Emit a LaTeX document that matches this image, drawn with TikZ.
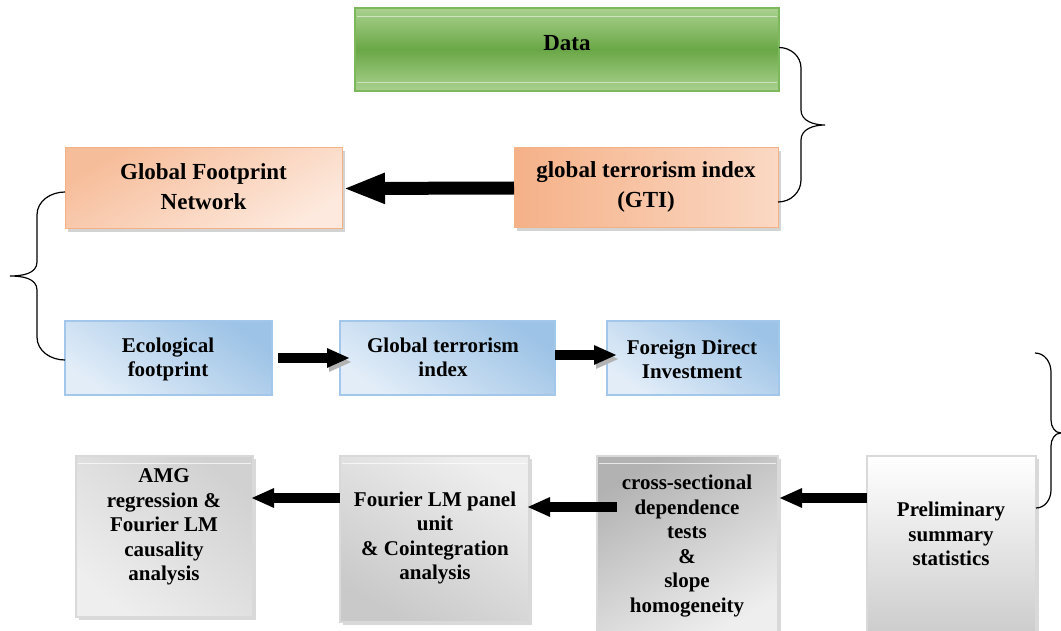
\documentclass[tikz,border=0pt]{standalone}
\usepackage{fontspec}
\setmainfont{Liberation Serif}
\usetikzlibrary{arrows.meta,calc,shadows}
\definecolor{gL}{HTML}{A9D18E}
\definecolor{gD}{HTML}{6AA746}
\definecolor{gBord}{HTML}{7DB85C}
\definecolor{oD}{HTML}{F5B188}
\definecolor{oL}{HTML}{FDE9DD}
\definecolor{oBord}{HTML}{F4B183}
\definecolor{bD}{HTML}{9DC3E6}
\definecolor{bL}{HTML}{E2EDF8}
\definecolor{bBord}{HTML}{A3C7EA}
\definecolor{grD}{HTML}{C6C6C6}
\definecolor{grL}{HTML}{EEEEEE}
\begin{document}
\begin{tikzpicture}[x=1pt,y=-1pt,
  every node/.style={inner sep=0pt, outer sep=0pt},
  databox/.style={draw=gBord, line width=1.2pt, top color=gL, bottom color=gL, middle color=gD},
  orbox/.style={draw=oBord, line width=1pt, drop shadow={shadow xshift=3pt,shadow yshift=-3pt,opacity=.35}},
  blbox/.style={draw=bBord, line width=1.2pt, top color=bD, bottom color=bL, shading angle=-35, minimum height=74pt},
  grbox/.style={draw=gray!30, line width=1.5pt, drop shadow={shadow xshift=3pt,shadow yshift=-3pt,opacity=.3}},
  ttop/.style={font=\bfseries\fontsize{23}{30}\selectfont, align=center},
  tsub/.style={font=\bfseries\fontsize{21}{24.5}\selectfont, align=center},
  bigbar/.style={line width=13pt, -{Triangle[length=42pt,width=28pt]}},
  bar/.style={line width=10pt, -{Triangle[length=23pt,width=18pt]}},
  shbar/.style={bar, preaction={draw=black!30, transform canvas={xshift=2pt,yshift=-4pt}}},
  bracepath/.style={draw=black, line width=1.2pt}
]
\useasboundingbox (0,0) rectangle (1061,631);

% --- top row
\node[databox, minimum width=424pt, minimum height=83pt] (data) at (567,49.5) {};
\draw[white, opacity=.5, line width=.8pt] ($(data.north west)+(2,8)$) -- ($(data.north east)+(-2,8)$);
\draw[white, opacity=.5, line width=.8pt] ($(data.south west)+(2,-9)$) -- ($(data.south east)+(-2,-9)$);
\node[ttop] (dataT) at (567,43) {Data};

\node[orbox, left color=oD, right color=oL!70!oD, minimum width=264pt, minimum height=80pt] (gti) at (646,188) {};
\node[ttop] (gtiT) at (646,187) {global terrorism index\\(GTI)};

\node[orbox, top color=oD!85, bottom color=oL, shading angle=30, minimum width=277pt, minimum height=81pt] (gfn) at (203.5,188.5) {};
\node[ttop] (gfnT) at (203.5,187) {Global Footprint\\Network};

\draw[bigbar] (gti.west) -- ($(gfn.east)+(1,0)$);

% --- blue row
\node[blbox, minimum width=207pt] (eco) at (168.5,358) {};
\node[tsub] (ecoT) at (168,359.5) {Ecological\\footprint};
\node[blbox, minimum width=215pt] (gtib) at (447.5,358) {};
\node[tsub] (gtibT) at (443,357.5) {Global terrorism\\index};
\node[blbox, minimum width=172pt] (fdi) at (693,358) {};
\node[tsub] (fdiT) at (692,359.5) {Foreign Direct\\Investment};

\draw[shbar] ($(eco.east)+(6,0)$) -- ($(gtib.west)+(10,0)$);
\draw[shbar] ($(gtib.east)+(0,-3)$) -- ($(fdi.west)+(10,-3)$);

% --- grey row
\node[grbox, top color=grD!80!white, bottom color=grL, shading angle=-40, minimum width=177pt, minimum height=161pt] (amg) at (164.5,536.5) {};
\node[grbox, top color=grL, bottom color=grD!95, shading angle=-30, minimum width=189pt, minimum height=166pt] (four) at (434.5,539) {};
\node[grbox, top color=grD!90!black, bottom color=grL, shading angle=30, minimum width=181pt, minimum height=180pt] (cross) at (687.5,546) {};
\node[grbox, top color=white, bottom color=grD!90, minimum width=169pt, minimum height=180pt] (prelim) at (951.5,546) {};
\foreach \b in {amg,four,cross,prelim}{
  \draw[white, opacity=.7, line width=.8pt] ($(\b.north west)+(2,7)$) -- ($(\b.north east)+(-2,7)$);
}
\node[tsub] (amgT) at (164,527) {AMG\\regression \&\\Fourier LM\\causality\\analysis};
\node[tsub] (fourT) at (435,538) {Fourier LM panel\\unit\\\& Cointegration\\analysis};
\node[tsub] (crossT) at (687,546) {cross-sectional\\dependence\\tests\\\&\\slope\\homogeneity};
\node[tsub] (prelimT) at (951,534) {Preliminary\\summary\\statistics};

\draw[bar] ($(four.west)+(0,-41)$) -- ($(amg.east)+(-2,-38.5)$);
\draw[bar] ($(cross.west)+(20,-39)$) -- ($(four.east)+(-2,-32)$);
\draw[bar] ($(prelim.west)+(0,-48)$) -- ($(cross.east)+(1,-48)$);

% --- braces
\draw[bracepath] ($(data.east)+(0,-2)$) to[out=0,in=90] (801,68) -- (801,110)
  to[out=-90,in=180] (825,125) to[out=180,in=90] (801,140) -- (801,180)
  to[out=-90,in=0] ($(gti.east)+(0,14)$);
\draw[bracepath] ($(gfn.west)+(0,3.5)$) to[out=180,in=90] (37,215) -- (37,262)
  to[out=-90,in=0] (10,276) to[out=0,in=90] (37,290) -- (37,337)
  to[out=-90,in=180] ($(eco.west)+(0,2)$);
\coordinate (rb) at (1035,353);
\draw[bracepath] (rb) to[out=0,in=90] (1051,372) -- (1051,420)
  to[out=-90,in=180] (1061,433) to[out=180,in=90] (1051,446) -- (1051,490)
  to[out=-90,in=0] ($(prelim.east)+(0,-38)$);
\end{tikzpicture}
\end{document}
